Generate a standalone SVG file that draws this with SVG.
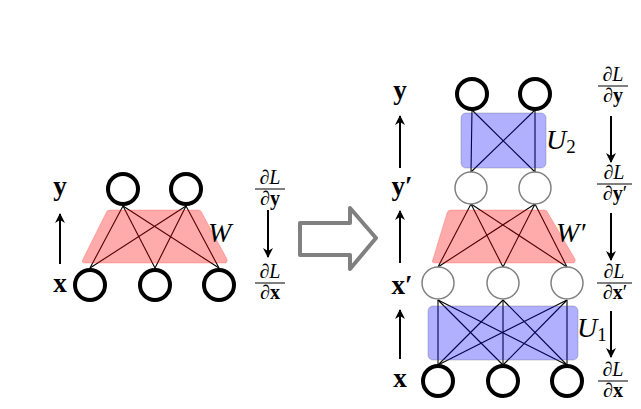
<svg xmlns="http://www.w3.org/2000/svg" width="641" height="409" viewBox="0 0 641 409">
<defs>
<marker id="ah" viewBox="0 0 10 12" refX="9" refY="6" markerWidth="10" markerHeight="12" markerUnits="userSpaceOnUse" orient="auto">
<path d="M0,1 L10,6 L0,11 L3,6 Z" fill="#000"/>
</marker>
<style>
.bn{fill:#fff;stroke:#000;stroke-width:4}
.gn{fill:#fff;stroke:#808080;stroke-width:1.5}
.ln{stroke:#000;stroke-width:1.1;fill:none}
.arr{stroke:#000;stroke-width:2;fill:none;marker-end:url(#ah)}
.red{fill:#ff0000;fill-opacity:0.33;stroke:#ff0000;stroke-opacity:0.2;stroke-width:1;stroke-linejoin:round}
.blue{fill:#0000ff;fill-opacity:0.31;stroke:#606080;stroke-opacity:0.35;stroke-width:1}
.lab{font-family:"Liberation Serif","DejaVu Serif",serif;font-weight:bold;font-size:27px;text-anchor:middle}
.mi{font-family:"Liberation Serif","DejaVu Serif",serif;font-style:italic;font-size:28px}
.fr{font-family:"Liberation Serif","DejaVu Serif",serif;font-size:20px;text-anchor:middle}
.bar{stroke:#000;stroke-width:1}
</style>
</defs>

<g id="connectors">
<g id="left-W-edges" class="ln">
<line x1="123" y1="206" x2="90" y2="268"/><line x1="123" y1="206" x2="155" y2="268"/><line x1="123" y1="206" x2="219" y2="268"/>
<line x1="186" y1="206" x2="90" y2="268"/><line x1="186" y1="206" x2="155" y2="268"/><line x1="186" y1="206" x2="219" y2="268"/>
</g>
<g id="right-U2-edges" class="ln">
<line x1="472" y1="110" x2="471" y2="172"/><line x1="472" y1="110" x2="535" y2="172"/>
<line x1="535" y1="110" x2="471" y2="172"/><line x1="535" y1="110" x2="535" y2="172"/>
</g>
<g id="right-W-edges" class="ln">
<line x1="471" y1="204" x2="438" y2="267"/><line x1="471" y1="204" x2="503" y2="267"/><line x1="471" y1="204" x2="567" y2="267"/>
<line x1="535" y1="204" x2="438" y2="267"/><line x1="535" y1="204" x2="503" y2="267"/><line x1="535" y1="204" x2="567" y2="267"/>
</g>
<g id="right-U1-edges" class="ln">
<line x1="438" y1="300" x2="438" y2="365"/><line x1="438" y1="300" x2="503" y2="365"/><line x1="438" y1="300" x2="567" y2="365"/>
<line x1="503" y1="300" x2="438" y2="365"/><line x1="503" y1="300" x2="503" y2="365"/><line x1="503" y1="300" x2="567" y2="365"/>
<line x1="567" y1="300" x2="438" y2="365"/><line x1="567" y1="300" x2="503" y2="365"/><line x1="567" y1="300" x2="567" y2="365"/>
</g>
<g id="arrows">
<line class="arr" x1="60" y1="264" x2="60" y2="214"/>
<line class="arr" x1="268" y1="210" x2="268" y2="257"/>
<line class="arr" x1="400" y1="168" x2="400" y2="116"/>
<line class="arr" x1="400" y1="263" x2="400" y2="211"/>
<line class="arr" x1="400" y1="359" x2="400" y2="310"/>
<line class="arr" x1="611" y1="116" x2="611" y2="162"/>
<line class="arr" x1="611" y1="213" x2="611" y2="260"/>
<line class="arr" x1="611" y1="311" x2="611" y2="357"/>
</g>
</g>

<g id="W-layer">
<path class="red" d="M110,210 L198,210 Q201,210 202,213 L227,259 Q228,263 224,263 L85,263 Q81,263 83,259 L106,213 Q107,210 110,210 Z"/>
<text class="mi" x="208" y="242">W</text>
</g>
<g id="W-prime-layer">
<path class="red" d="M451,210 L544,210 Q547,210 548,213 L575,259 Q576,263 572,263 L435,263 Q431,263 433,259 L447,213 Q448,210 451,210 Z"/>
<text class="mi" x="556" y="242">W′</text>
</g>
<g id="U2-layer">
<rect class="blue" x="461" y="113" width="85" height="55" rx="5"/>
<text class="mi" x="546" y="149">U<tspan font-size="19" font-style="normal" dy="4">2</tspan></text>
</g>
<g id="U1-layer">
<rect class="blue" x="428" y="306" width="150" height="54" rx="5"/>
<text class="mi" x="577" y="337">U<tspan font-size="19" font-style="normal" dy="4">1</tspan></text>
</g>

<g id="left-y1"><circle class="bn" cx="123" cy="189" r="15"/></g>
<g id="left-y2"><circle class="bn" cx="186" cy="189" r="15"/></g>
<g id="left-x1"><circle class="bn" cx="90" cy="285" r="15"/></g>
<g id="left-x2"><circle class="bn" cx="155" cy="285" r="15"/></g>
<g id="left-x3"><circle class="bn" cx="219" cy="285" r="15"/></g>

<g id="right-y1"><circle class="bn" cx="472" cy="94" r="15"/></g>
<g id="right-y2"><circle class="bn" cx="535" cy="94" r="15"/></g>
<g id="right-yp1"><circle class="gn" cx="471" cy="188" r="16"/></g>
<g id="right-yp2"><circle class="gn" cx="535" cy="188" r="16"/></g>
<g id="right-xp1"><circle class="gn" cx="438" cy="283" r="16"/></g>
<g id="right-xp2"><circle class="gn" cx="503" cy="283" r="16"/></g>
<g id="right-xp3"><circle class="gn" cx="567" cy="283" r="16"/></g>
<g id="right-x1"><circle class="bn" cx="438" cy="381" r="15"/></g>
<g id="right-x2"><circle class="bn" cx="503" cy="381" r="15"/></g>
<g id="right-x3"><circle class="bn" cx="567" cy="381" r="15"/></g>

<g id="big-arrow">
<path d="M300,223 L350,223 L350,208 L376,238 L350,269 L350,255 L300,255 Z" fill="#fff" stroke="#808080" stroke-width="4" stroke-linejoin="round"/>
</g>

<g id="labels">
<text class="lab" x="60" y="195">y</text>
<text class="lab" x="60" y="292">x</text>
<text class="lab" x="400" y="99">y</text>
<text class="lab" x="402" y="195">y′</text>
<text class="lab" x="402" y="294">x′</text>
<text class="lab" x="400" y="387">x</text>
</g>

<g id="fractions">
<g id="fr-left-y"><text class="fr" x="270" y="184"><tspan font-style="italic">∂L</tspan></text><line class="bar" x1="255" y1="189" x2="285" y2="189"/><text class="fr" x="270" y="205"><tspan font-style="italic">∂</tspan><tspan font-weight="bold">y</tspan></text></g>
<g id="fr-left-x"><text class="fr" x="270" y="278"><tspan font-style="italic">∂L</tspan></text><line class="bar" x1="255" y1="283" x2="285" y2="283"/><text class="fr" x="270" y="299"><tspan font-style="italic">∂</tspan><tspan font-weight="bold">x</tspan></text></g>
<g id="fr-right-y"><text class="fr" x="613" y="81"><tspan font-style="italic">∂L</tspan></text><line class="bar" x1="598" y1="86" x2="628" y2="86"/><text class="fr" x="613" y="102"><tspan font-style="italic">∂</tspan><tspan font-weight="bold">y</tspan></text></g>
<g id="fr-right-yp"><text class="fr" x="614" y="179"><tspan font-style="italic">∂L</tspan></text><line class="bar" x1="597" y1="184" x2="632" y2="184"/><text class="fr" x="615" y="200"><tspan font-style="italic">∂</tspan><tspan font-weight="bold">y</tspan>′</text></g>
<g id="fr-right-xp"><text class="fr" x="614" y="278"><tspan font-style="italic">∂L</tspan></text><line class="bar" x1="597" y1="283" x2="632" y2="283"/><text class="fr" x="615" y="299"><tspan font-style="italic">∂</tspan><tspan font-weight="bold">x</tspan>′</text></g>
<g id="fr-right-x"><text class="fr" x="613" y="376"><tspan font-style="italic">∂L</tspan></text><line class="bar" x1="598" y1="381" x2="628" y2="381"/><text class="fr" x="613" y="397"><tspan font-style="italic">∂</tspan><tspan font-weight="bold">x</tspan></text></g>
</g>
</svg>
